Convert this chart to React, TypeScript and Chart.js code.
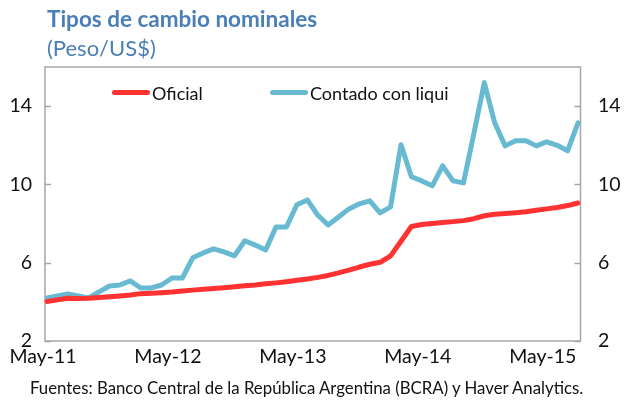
import React, { useEffect, useRef } from "react";
import { Chart, registerables } from "chart.js";

Chart.register(...registerables);

const months = [
  "May-11", "Jun-11", "Jul-11", "Aug-11", "Sep-11", "Oct-11", "Nov-11", "Dec-11",
  "Jan-12", "Feb-12", "Mar-12", "Apr-12", "May-12", "Jun-12", "Jul-12", "Aug-12",
  "Sep-12", "Oct-12", "Nov-12", "Dec-12", "Jan-13", "Feb-13", "Mar-13", "Apr-13",
  "May-13", "Jun-13", "Jul-13", "Aug-13", "Sep-13", "Oct-13", "Nov-13", "Dec-13",
  "Jan-14", "Feb-14", "Mar-14", "Apr-14", "May-14", "Jun-14", "Jul-14", "Aug-14",
  "Sep-14", "Oct-14", "Nov-14", "Dec-14", "Jan-15", "Feb-15", "Mar-15", "Apr-15",
  "May-15", "Jun-15", "Jul-15", "Aug-15",
];

const shownMonths = ["May-11", "May-12", "May-13", "May-14", "May-15"];

const oficial = [
  4.02, 4.1, 4.18, 4.17, 4.18, 4.22, 4.26, 4.3, 4.35, 4.42, 4.44, 4.47, 4.5,
  4.55, 4.6, 4.64, 4.68, 4.72, 4.77, 4.82, 4.86, 4.92, 4.97, 5.03, 5.1, 5.17,
  5.25, 5.35, 5.48, 5.62, 5.78, 5.92, 6.02, 6.35, 7.1, 7.85, 7.95, 8.0, 8.05,
  8.1, 8.15, 8.25, 8.4, 8.48, 8.52, 8.55, 8.6, 8.68, 8.75, 8.82, 8.92, 9.05,
];

const contadoConLiqui = [
  4.2, 4.3, 4.4, 4.3, 4.2, 4.51, 4.81, 4.86, 5.07, 4.71, 4.71, 4.86, 5.22,
  5.22, 6.25, 6.5, 6.71, 6.55, 6.35, 7.12, 6.9, 6.65, 7.83, 7.83, 8.96, 9.21,
  8.44, 7.93, 8.34, 8.75, 9.01, 9.16, 8.55, 8.85, 12.03, 10.39, 10.18, 9.93,
  10.95, 10.18, 10.08, 12.6, 15.2, 13.15, 11.97, 12.23, 12.23, 11.97, 12.18,
  12.0, 11.72, 13.15,
];

const yTicks = [2, 6, 10, 14];
const yMin = 2;
const yMax = 16;

const RED = "rgb(255,50,50)";
const BLUE = "rgb(103,186,209)";
const TITLE = "rgb(74,127,182)";
const AXIS = "#A6A6A6";
const FONT = "Lato, 'Open Sans', sans-serif";

const frame = {
  id: "frame",
  beforeDatasetsDraw(chart: any) {
    const { ctx, chartArea } = chart;
    const { left, right, top, bottom } = chartArea;
    const l = left - 2;
    const r = right + 2.5;
    ctx.save();
    ctx.strokeStyle = AXIS;
    ctx.lineWidth = 1.5;
    ctx.strokeRect(l, top, r - l, bottom - top);
    const ys = chart.scales.y;
    yTicks.forEach((v) => {
      const y = Math.round(ys.getPixelForValue(v)) + 0.5;
      ctx.beginPath();
      ctx.moveTo(l, y);
      ctx.lineTo(l + 6, y);
      ctx.moveTo(r, y);
      ctx.lineTo(r - 6, y);
      ctx.stroke();
    });
    ctx.restore();
  },
};

export default function App() {
  const ref = useRef<HTMLCanvasElement | null>(null);

  useEffect(() => {
    if (!ref.current) return;
    const tickFont = { family: FONT, size: 19.5 };
    const chart = new Chart(ref.current, {
      type: "line",
      data: {
        labels: months,
        datasets: [
          {
            label: "Oficial",
            data: oficial,
            borderColor: RED,
            backgroundColor: RED,
            borderWidth: 5,
            pointRadius: 0,
            tension: 0,
            borderJoinStyle: "round",
            borderCapStyle: "round",
            yAxisID: "y",
          },
          {
            label: "Contado con liqui",
            data: contadoConLiqui,
            borderColor: BLUE,
            backgroundColor: BLUE,
            borderWidth: 5,
            pointRadius: 0,
            tension: 0,
            borderJoinStyle: "round",
            borderCapStyle: "round",
            yAxisID: "y",
          },
        ],
      },
      options: {
        animation: false,
        responsive: false,
        maintainAspectRatio: false,
        layout: { padding: { top: 67, left: 0, right: 0, bottom: 0 } },
        plugins: { legend: { display: false }, tooltip: { enabled: false } },
        scales: {
          x: {
            type: "category",
            offset: false,
            grid: { display: false, drawTicks: false },
            border: { display: false },
            ticks: {
              autoSkip: false,
              maxRotation: 0,
              minRotation: 0,
              padding: 4,
              color: "#111",
              font: tickFont,
              labelOffset: -4,
              callback: function (this: any, val: any) {
                const lab = this.getLabelForValue(val);
                return shownMonths.includes(lab) ? lab : "";
              },
            },
            afterFit: (s: any) => {
              s.height = 59;
            },
          },
          y: {
            position: "left",
            min: yMin,
            max: yMax,
            grid: { display: false, drawTicks: false },
            border: { display: false },
            ticks: { padding: 15, color: "#111", font: tickFont },
            afterBuildTicks: (s: any) => {
              s.ticks = yTicks.map((v) => ({ value: v }));
            },
            afterFit: (s: any) => {
              s.width = 47;
            },
          },
          y2: {
            position: "right",
            min: yMin,
            max: yMax,
            grid: { display: false, drawTicks: false },
            border: { display: false },
            ticks: { padding: 20, color: "#111", font: tickFont },
            afterBuildTicks: (s: any) => {
              s.ticks = yTicks.map((v) => ({ value: v }));
            },
            afterFit: (s: any) => {
              s.width = 46;
            },
          },
        },
      },
      plugins: [frame],
    });
    return () => chart.destroy();
  }, []);

  const legendText: React.CSSProperties = {
    position: "absolute",
    fontFamily: FONT,
    fontSize: 18,
    color: "#111",
    lineHeight: "20px",
    top: 83,
    whiteSpace: "nowrap",
  };
  const legendLine = (left: number, color: string): React.CSSProperties => ({
    position: "absolute",
    left,
    top: 90,
    width: 38,
    height: 5,
    borderRadius: 3,
    background: color,
  });

  return (
    <div
      style={{
        position: "absolute",
        left: 0,
        top: 0,
        width: 624,
        height: 400,
        background: "#fff",
        overflow: "hidden",
      }}
    >
      <canvas
        ref={ref}
        width={624}
        height={400}
        style={{ position: "absolute", left: 0, top: 0, width: 624, height: 400 }}
      />
      <div
        style={{
          position: "absolute",
          left: 47,
          top: 5,
          fontFamily: FONT,
          fontWeight: 700,
          fontSize: 22.5,
          lineHeight: "28px",
          color: TITLE,
          whiteSpace: "nowrap",
        }}
      >
        Tipos de cambio nominales
      </div>
      <div
        style={{
          position: "absolute",
          left: 47,
          top: 34,
          fontFamily: FONT,
          fontSize: 22,
          lineHeight: "28px",
          color: TITLE,
          whiteSpace: "nowrap",
        }}
      >
        (Peso/US$)
      </div>
      <div style={legendLine(112, RED)} />
      <div style={{ ...legendText, left: 152 }}>Oficial</div>
      <div style={legendLine(270, BLUE)} />
      <div style={{ ...legendText, left: 310 }}>Contado con liqui</div>
      <div
        style={{
          position: "absolute",
          left: 30,
          top: 378,
          fontFamily: FONT,
          fontSize: 16.8,
          lineHeight: "20px",
          color: "#111",
          whiteSpace: "nowrap",
        }}
      >
        Fuentes: Banco Central de la República Argentina (BCRA) y Haver Analytics.
      </div>
    </div>
  );
}
